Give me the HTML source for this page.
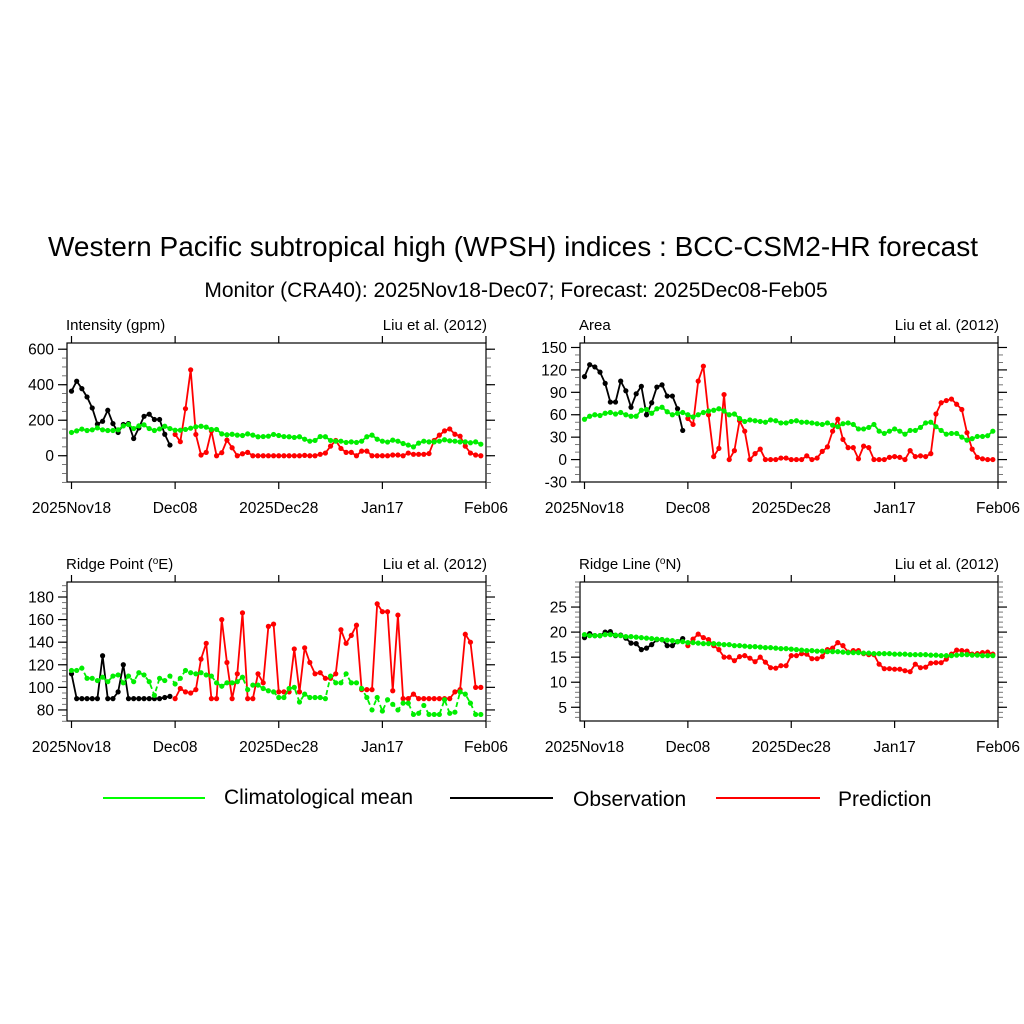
<!DOCTYPE html>
<html><head><meta charset="utf-8">
<style>
html,body{margin:0;padding:0;background:#fff;}
svg{display:block;font-family:"Liberation Sans",Arial,sans-serif;}
</style></head>
<body>
<svg id="c" width="1024" height="1024" viewBox="0 0 1024 1024" xmlns="http://www.w3.org/2000/svg">
<text x="513" y="256" text-anchor="middle" font-size="28">Western Pacific subtropical high (WPSH) indices : BCC-CSM2-HR forecast</text>
<text x="516" y="297" text-anchor="middle" font-size="21">Monitor (CRA40): 2025Nov18-Dec07; Forecast: 2025Dec08-Feb05</text>
<g>
<g><line x1="103" y1="798" x2="205" y2="798" stroke="#00ff00" stroke-width="2"/><text x="224" y="804" font-size="21">Climatological mean</text></g>
<g><line x1="450" y1="798" x2="553" y2="798" stroke="#000" stroke-width="2"/><text x="573" y="806" font-size="21">Observation</text></g>
<g><line x1="716" y1="798" x2="820" y2="798" stroke="#ff0000" stroke-width="2"/><text x="838" y="806" font-size="21">Prediction</text></g>
</g>
</svg>
<script>
const xTickLabels = ["2025Nov18","Dec08","2025Dec28","Jan17","Feb06"];
const xTickDays = [0,20,40,60,80];

const intClim = [131,140,150,142,146,157,146,142,142,146,168,176,153,168,174,153,142,151,166,153,144,144,148,155,163,166,161,148,148,123,118,121,116,114,123,116,107,108,110,120,114,108,107,103,107,93,82,86,108,107,86,82,82,75,78,75,82,107,116,93,82,77,88,82,69,60,50,71,82,78,78,82,90,84,82,78,78,73,78,65];
const intObs = [364,420,378,331,269,178,194,256,181,131,176,181,97,157,222,234,204,204,121,60];
const intPred = [120,79,265,484,120,4,19,140,0,17,88,45,0,11,19,0,0,0,0,0,0,0,0,0,0,2,0,0,8,15,54,86,41,19,19,0,26,26,0,0,0,0,4,4,0,15,8,8,8,12,86,116,140,151,121,110,54,15,4,0];

const areaClim = [54,58,60,59,62,63,61,63,60,58,58,66,67,62,68,70,64,60,62,63,60,57,60,63,65,66,68,65,60,61,55,51,53,52,51,50,53,52,49,49,51,52,50,50,49,48,47,49,46,44,48,49,47,41,41,43,47,38,35,38,41,38,34,39,39,43,49,50,44,39,34,35,35,30,26,28,31,31,32,38];
const areaObs = [111,127,124,117,102,77,77,105,92,70,88,98,60,76,97,100,85,85,68,39];
const areaPred = [55,47,105,125,60,4,15,87,0,12,52,38,0,8,14,0,0,0,2,2,0,0,0,5,0,2,11,17,38,54,27,16,16,1,18,16,0,0,0,3,4,3,0,12,4,5,4,8,61,76,79,81,74,67,36,14,3,1,0,0];

const rpClim = [115,115,117,108,108,106,109,105,110,111,104,110,105,113,111,105,93,108,106,110,103,108,115,113,112,113,111,110,104,101,104,104,105,109,98,102,102,99,97,96,91,91,99,100,87,94,91,91,91,90,110,104,104,112,104,104,99,91,80,91,79,89,85,80,86,86,76,77,84,76,76,76,89,77,78,96,94,86,76,76];
const rpObs = [112,90,90,90,90,90,128,90,90,96,120,90,90,90,90,90,90,90,91,92];
const rpPred = [90,99,96,95,98,125,139,90,90,160,122,90,112,166,90,90,112,104,154,156,96,96,96,134,96,135,122,112,113,108,108,112,151,139,146,155,98,98,98,174,167,167,97,164,90,90,94,90,90,90,90,90,90,90,96,98,147,140,100,100];

const rlClim = [19.5,19.3,19.3,19.3,19.5,19.5,19.4,19.3,19.1,19.1,19.0,18.9,18.8,18.7,18.6,18.5,18.4,18.3,18.1,18.1,17.9,17.9,17.8,17.7,17.7,17.7,17.6,17.5,17.5,17.3,17.3,17.2,17.1,17.1,17.0,16.9,16.9,16.8,16.7,16.7,16.6,16.5,16.4,16.3,16.3,16.2,16.2,16.1,16.1,16.1,16.0,15.9,15.9,15.9,15.8,15.8,15.7,15.7,15.7,15.7,15.6,15.6,15.6,15.5,15.5,15.5,15.5,15.4,15.4,15.3,15.3,15.3,15.4,15.5,15.5,15.4,15.4,15.3,15.3,15.3];
const rlObs = [18.9,19.7,19.3,19.3,20.0,20.1,19.3,19.4,18.8,17.8,17.7,16.5,16.8,17.5,18.5,18.5,17.3,17.3,18.1,18.7];
const rlPred = [17.3,18.6,19.6,18.9,18.5,17.3,16.5,15.0,15.0,14.3,15.1,15.3,14.8,14.1,15.0,14.0,12.9,12.8,13.3,13.3,15.3,15.3,15.7,15.6,14.7,14.7,15.1,16.5,16.8,17.9,17.3,16.0,16.3,16.3,15.7,15.5,15.5,13.6,12.7,12.7,12.6,12.6,12.3,12.1,13.6,12.9,13.0,13.8,13.9,13.9,14.6,15.6,16.4,16.3,16.2,15.6,15.7,15.9,16.0,15.6];

const intTicks = [0,200,400,600];
const areaTicks = [-30,0,30,60,90,120,150];
const rpTicks = [80,100,120,140,160,180];
const rlTicks = [5,10,15,20,25];

const NS = "http://www.w3.org/2000/svg";
const svg = document.getElementById("c");
function mk(tag, attrs, parent){
  const e = document.createElementNS(NS, tag);
  for (const k in attrs) e.setAttribute(k, attrs[k]);
  (parent||svg).appendChild(e);
  return e;
}

function panel(cfg){
  const g = mk("g", {});
  
  
  const L=cfg.left, R=cfg.right, T=cfg.top, B=cfg.bottom;
  const x0 = L + 4.5;
  const xs = d => x0 + d*(R - x0)/80;
  const ys = v => B - (v - cfg.min)*(B - T)/(cfg.max - cfg.min);
  const fr = mk("rect",{x:L,y:T,width:R-L,height:B-T,fill:"none",stroke:"#000","stroke-width":1.2},g);
  
  
  xTickDays.forEach((d,i)=>{
    const x = xs(d);
    mk("line",{x1:x,y1:B,x2:x,y2:B+7,stroke:"#000","stroke-width":1.2},g);
    mk("line",{x1:x,y1:T,x2:x,y2:T-7,stroke:"#000","stroke-width":1.2},g);
    const t = mk("text",{x:x,y:B+31,"text-anchor":"middle","font-size":15.5},g);
    t.textContent = xTickLabels[i];
    
    
  });
  for (let v = cfg.minorStart; v <= cfg.max; v += cfg.minor){
    const y = ys(v);
    if (y < T-0.5 || y > B+0.5) continue;
    mk("line",{x1:L,y1:y,x2:L-5,y2:y,stroke:"#555","stroke-width":0.8},g);
    mk("line",{x1:R,y1:y,x2:R+5,y2:y,stroke:"#555","stroke-width":0.8},g);
  }
  cfg.ticks.forEach(v=>{
    const y = ys(v);
    mk("line",{x1:L,y1:y,x2:L-9,y2:y,stroke:"#000","stroke-width":1.2},g);
    mk("line",{x1:R,y1:y,x2:R+9,y2:y,stroke:"#000","stroke-width":1.2},g);
    const t = mk("text",{x:L-13,y:y+5.5,"text-anchor":"end","font-size":15.5},g);
    t.textContent = String(v);
    
    
  });
  const tl = mk("text",{x:L-1,y:T-13,"font-size":15},g);
  tl.innerHTML = cfg.title;
  
  
  const tr = mk("text",{x:R+1,y:T-13,"font-size":15,"text-anchor":"end"},g);
  tr.textContent = "Liu et al. (2012)";
  
  
  function series(vals, offset, color, name, dash){
    const sg = mk("g",{},g);
    
    
    const pts = vals.map((v,i)=> xs(i+offset).toFixed(2)+","+ys(v).toFixed(2)).join(" ");
    const pl = mk("polyline",{points:pts,fill:"none",stroke:color,"stroke-width":1.8},sg);
    if (dash) pl.setAttribute("stroke-dasharray", dash);
    
    
    vals.forEach((v,i)=>{
      const c = mk("circle",{cx:xs(i+offset),cy:ys(v),r:2.6,fill:color},sg);
      
      
    });
  }
  series(cfg.obs, 0, "#000000", "observation-series");
  series(cfg.pred, 20, "#ff0000", "prediction-series");
  series(cfg.clim, 0, "#00ee00", "climatology-series", cfg.dash);
}

panel({name:"intensity-panel",left:67,right:486,top:343,bottom:482,min:-148,max:635,ticks:intTicks,minor:50,minorStart:-150,title:"Intensity (gpm)",clim:intClim,obs:intObs,pred:intPred});
panel({name:"area-panel",left:580,right:998,top:343,bottom:482,min:-30,max:156,ticks:areaTicks,minor:10,minorStart:-30,title:"Area",clim:areaClim,obs:areaObs,pred:areaPred});
panel({name:"ridge-point-panel",left:67,right:486,top:582,bottom:721,min:70.2,max:193.3,ticks:rpTicks,minor:5,minorStart:70,title:"Ridge Point (<tspan dy='-5' font-size='10'>o</tspan><tspan dy='5'>E)</tspan>",clim:rpClim,obs:rpObs,pred:rpPred,dash:"5 3"});
panel({name:"ridge-line-panel",left:580,right:998,top:582,bottom:721,min:2.26,max:30,ticks:rlTicks,minor:1,minorStart:3,title:"Ridge Line (<tspan dy='-5' font-size='10'>o</tspan><tspan dy='5'>N)</tspan>",clim:rlClim,obs:rlObs,pred:rlPred});
</script>
</body></html>
